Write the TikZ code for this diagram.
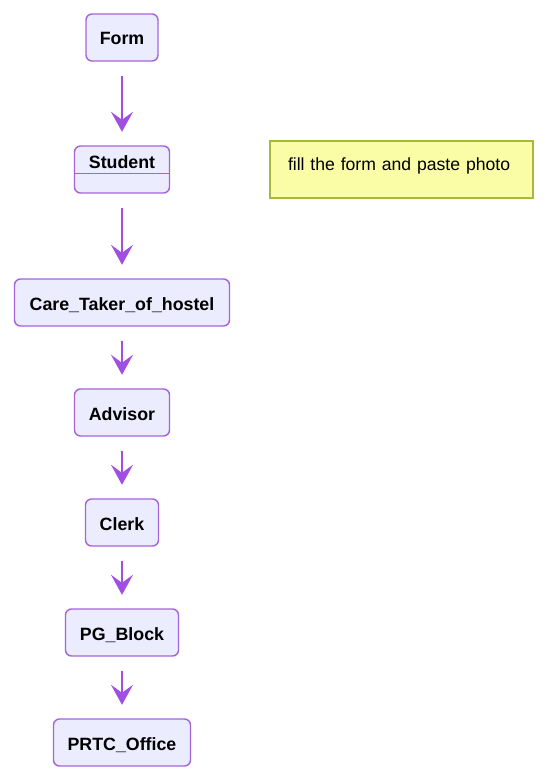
\documentclass[tikz,border=0pt]{standalone}
\usepackage{fontspec}
\setmainfont{Liberation Sans}
\usetikzlibrary{arrows.meta}
\definecolor{boxfill}{HTML}{ECECFF}
\definecolor{boxline}{HTML}{A564DC}
\definecolor{arrowc}{HTML}{A14FE2}
\definecolor{notefill}{HTML}{FAFDA6}
\definecolor{noteline}{HTML}{A8B83A}
\begin{document}
\begin{tikzpicture}[x=1pt,y=-1pt,
  statebox/.style={draw=boxline, fill=boxfill, line width=1.4pt, rounded corners=6pt,
    font=\fontsize{17.8}{20}\selectfont\bfseries, minimum height=47pt, inner sep=0pt,
    text height=15pt, text depth=0pt},
  flow/.style={draw=arrowc, line width=1.8pt, -{Stealth[length=20pt,width=22pt,inset=8pt]},
    shorten <=14pt, shorten >=13.5pt},
  notebox/.style={draw=noteline, fill=notefill, line width=1.4pt,
    font=\fontsize{17.6}{21}\selectfont, minimum width=263pt, minimum height=57pt,
    inner xsep=18pt, inner ysep=0pt, text width=227pt, align=left,
    text height=13pt, text depth=12pt}]
\useasboundingbox (0,0) rectangle (547,781);
\fill[white] (0,0) rectangle (547,781);
\node[statebox, minimum width=72pt] (form) at (122,37.5) {Form};
\node[statebox, minimum width=95pt, text height=12pt, text depth=15pt] (student) at (122,169.5) {Student};
\draw[boxline, line width=1.4pt] ([yshift=-28pt]student.north west) -- ([yshift=-28pt]student.north east);
\node[notebox] (note) at (401.5,169.5) {\mbox{fill the form and paste photo}};
\node[statebox, minimum width=215pt] (care) at (122,302.5) {Care\_Taker\_of\_hostel};
\node[statebox, minimum width=95pt] (advisor) at (122,412.5) {Advisor};
\node[statebox, minimum width=73pt] (clerk) at (122,522.5) {Clerk};
\node[statebox, minimum width=113pt] (pg) at (122,632.5) {PG\_Block};
\node[statebox, minimum width=137pt] (prtc) at (122,742.5) {PRTC\_Office};
\draw[flow] (form) -- (student);
\draw[flow] (student) -- (care);
\draw[flow] (care) -- (advisor);
\draw[flow] (advisor) -- (clerk);
\draw[flow] (clerk) -- (pg);
\draw[flow] (pg) -- (prtc);
\end{tikzpicture}
\end{document}
